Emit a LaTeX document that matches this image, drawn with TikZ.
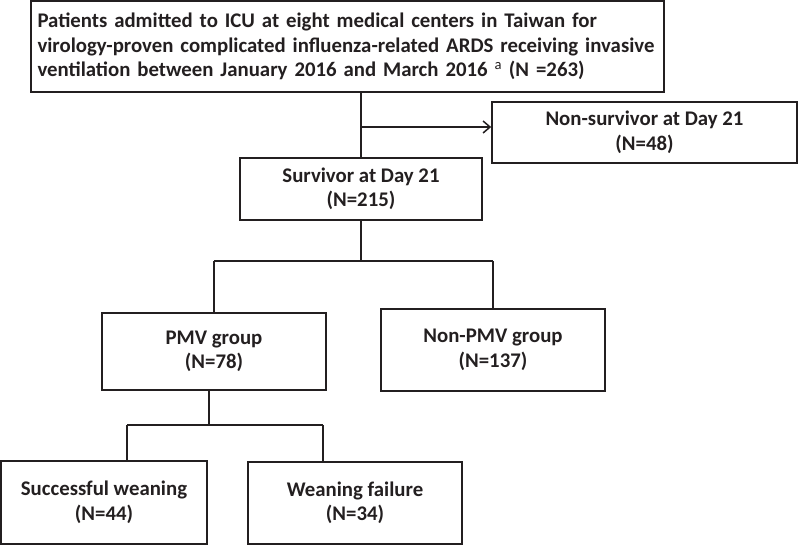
\documentclass[tikz,border=0pt]{standalone}
\usepackage{fontspec}
\setmainfont[Ligatures=Common]{Carlito}
\usetikzlibrary{arrows.meta}
\definecolor{ink}{HTML}{231F20}
\begin{document}
\begin{tikzpicture}[x=1pt,y=1pt,
  box/.style={draw=ink,line width=1.6pt,inner sep=0pt,align=center,text=ink,
    font=\fontsize{20.8}{24.5}\selectfont\bfseries},
  link/.style={draw=ink,line width=1.5pt},
  arr/.style={link,-{Straight Barb[length=7pt,width=12pt,line width=1.5pt]}}]
\useasboundingbox (0,0) rectangle (799,-546);
\node[box,align=left,text width=620pt,inner xsep=6.5pt,minimum height=91pt] (top) at (347.5,-46.5)
  {Patients admitted to ICU at eight medical centers in Taiwan for\\
   virology-proven complicated influenza-related ARDS receiving invasive\\
   ventilation between January 2016 and March 2016 \textsuperscript{\mdseries a} (N =263)};
\node[box,minimum width=305pt,minimum height=61pt] (nonsurv) at (644.5,-132.5)
  {Non-survivor at Day 21\\(N=48)};
\node[box,minimum width=242pt,minimum height=62pt] (surv) at (361,-189)
  {Survivor at Day 21\\(N=215)};
\node[box,minimum width=224pt,minimum height=77pt] (pmv) at (214,-351.5)
  {PMV group\\(N=78)};
\node[box,minimum width=224pt,minimum height=82pt] (nonpmv) at (493,-350)
  {Non-PMV group\\(N=137)};
\node[box,minimum width=206pt,minimum height=83pt] (succ) at (104,-502.5)
  {Successful weaning\\(N=44)};
\node[box,minimum width=214pt,minimum height=82pt] (fail) at (355,-503)
  {Weaning failure\\(N=34)};
% connectors
\coordinate (br) at (361,-127);
\coordinate (s1) at (361,-261);
\coordinate (p0) at (209,-390);
\coordinate (p1) at (209,-425);
\coordinate (sl) at (127,-425);
\coordinate (fr) at (323,-425);
\draw[link] (surv.north |- top.south) -- (surv.north);
\draw[arr] (br) -- (br -| nonsurv.west);
\draw[link] (surv.south) -- (s1);
\draw[link] (pmv.north |- s1) -- (nonpmv.north |- s1);
\draw[link] (pmv.north |- s1) -- (pmv.north);
\draw[link] (nonpmv.north |- s1) -- (nonpmv.north);
\draw[link] (p0) -- (p1);
\draw[link] (sl) -- (fr);
\draw[link] (sl) -- (sl |- succ.north);
\draw[link] (fr) -- (fr |- fail.north);
\end{tikzpicture}
\end{document}
